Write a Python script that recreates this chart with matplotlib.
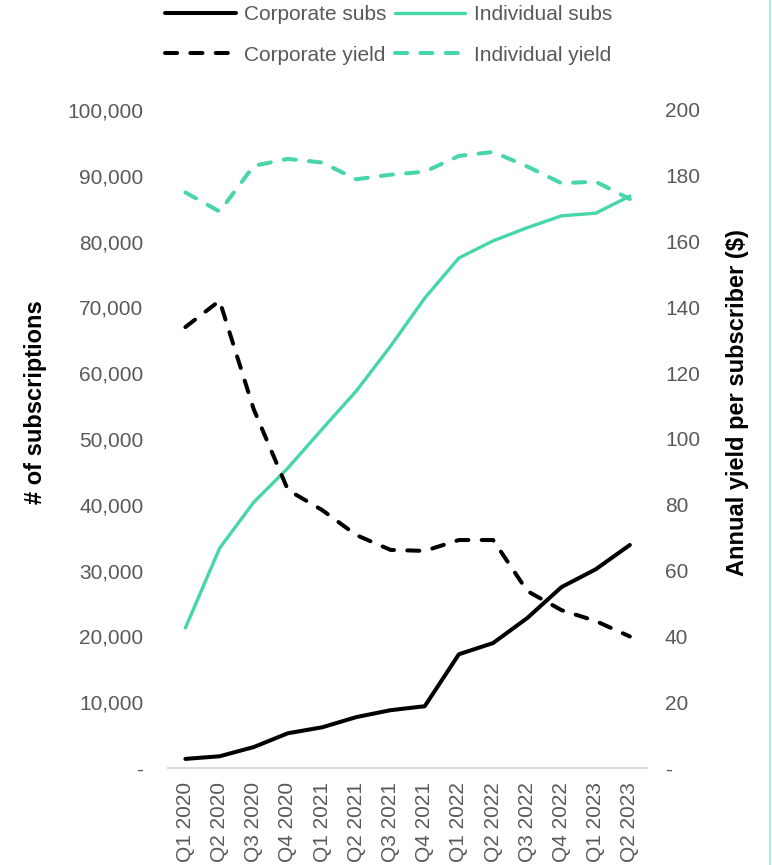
import matplotlib.pyplot as plt
from matplotlib.lines import Line2D
from matplotlib.ticker import FuncFormatter

quarters = ['Q1 2020', 'Q2 2020', 'Q3 2020', 'Q4 2020',
            'Q1 2021', 'Q2 2021', 'Q3 2021', 'Q4 2021',
            'Q1 2022', 'Q2 2022', 'Q3 2022', 'Q4 2022',
            'Q1 2023', 'Q2 2023']

corporate_subs = [1400, 1800, 3200, 5300, 6200, 7750, 8800, 9400,
                  17300, 19000, 22800, 27500, 30200, 33900]
individual_subs = [21300, 33400, 40400, 45600, 51500, 57300, 64100, 71400,
                   77500, 80100, 82100, 83900, 84300, 86900]
corporate_yield = [134, 142, 109, 84.5, 78.4, 70.8, 66.3, 66,
                   69.3, 69.3, 53.8, 48, 44.7, 40]
individual_yield = [174.9, 169.1, 183.0, 185.1, 184.0, 178.9, 180.3, 181.2,
                    186.0, 187.2, 182.8, 177.7, 178.2, 172.9]

TEAL = '#46D6A9'
GRIS = '#595959'

plt.rcParams['font.family'] = ['Liberation Sans', 'DejaVu Sans']

fig = plt.figure(figsize=(7.72, 8.65), dpi=100)
ax = fig.add_axes([0.218, 0.112, 0.620, 0.761])
ax2 = ax.twinx()

x = range(len(quarters))
l1, = ax.plot(x, corporate_subs, color='black', lw=2.9, solid_capstyle='round',
              label='Corporate subs')
l2, = ax.plot(x, individual_subs, color=TEAL, lw=2.4, solid_capstyle='round',
              label='Individual subs')
l3, = ax2.plot(x, corporate_yield, color='black', lw=2.9, dashes=(3, 3.3),
               dash_capstyle='round', label='Corporate yield')
l4, = ax2.plot(x, individual_yield, color=TEAL, lw=2.9, dashes=(3, 3.3),
               dash_capstyle='round', label='Individual yield')

ax.set_xlim(-0.5, len(quarters) - 0.5)
ax.set_ylim(0, 100000)
ax2.set_ylim(0, 200)
ax.set_yticks(range(0, 100001, 10000))
ax2.set_yticks(range(0, 201, 20))

ax.yaxis.set_major_formatter(FuncFormatter(lambda v, p: '-' if v == 0 else f'{v:,.0f}'))
ax2.yaxis.set_major_formatter(FuncFormatter(lambda v, p: '-' if v == 0 else f'{v:,.0f}'))

ax.set_xticks(list(x))
ax.set_xticklabels(quarters, rotation=90)

for a in (ax, ax2):
    for s in a.spines.values():
        s.set_visible(False)
    a.tick_params(length=0, colors=GRIS, labelsize=15)
ax.spines['bottom'].set_visible(True)
ax.spines['bottom'].set_color('#D9D9D9')
ax.spines['bottom'].set_linewidth(1.5)
ax.tick_params(axis='y', pad=18)
ax2.tick_params(axis='y', pad=13)
ax.tick_params(axis='x', pad=10)

ax.set_ylabel('# of subscriptions', fontsize=17, fontweight='bold')
ax2.set_ylabel('Annual yield per subscriber ($)', fontsize=17, fontweight='bold',
               rotation=90)
ax.yaxis.set_label_coords(-0.278, 0.556)
ax2.yaxis.set_label_coords(1.19, 0.556)
ax2.yaxis.label.set_verticalalignment('center')
ax.yaxis.label.set_verticalalignment('center')

fig.legend(handles=[l1, l3, l2, l4], ncol=2, loc='upper center',
           bbox_to_anchor=(0.503, 1.016), frameon=False, fontsize=15,
           labelcolor=GRIS, handlelength=3.4, handletextpad=0.4,
           columnspacing=0.4, labelspacing=1.05)

fig.add_artist(Line2D([0.998, 0.998], [0, 1], transform=fig.transFigure,
                      color='#B5EBDA', lw=1.5))

plt.savefig('out.png', dpi=100)
